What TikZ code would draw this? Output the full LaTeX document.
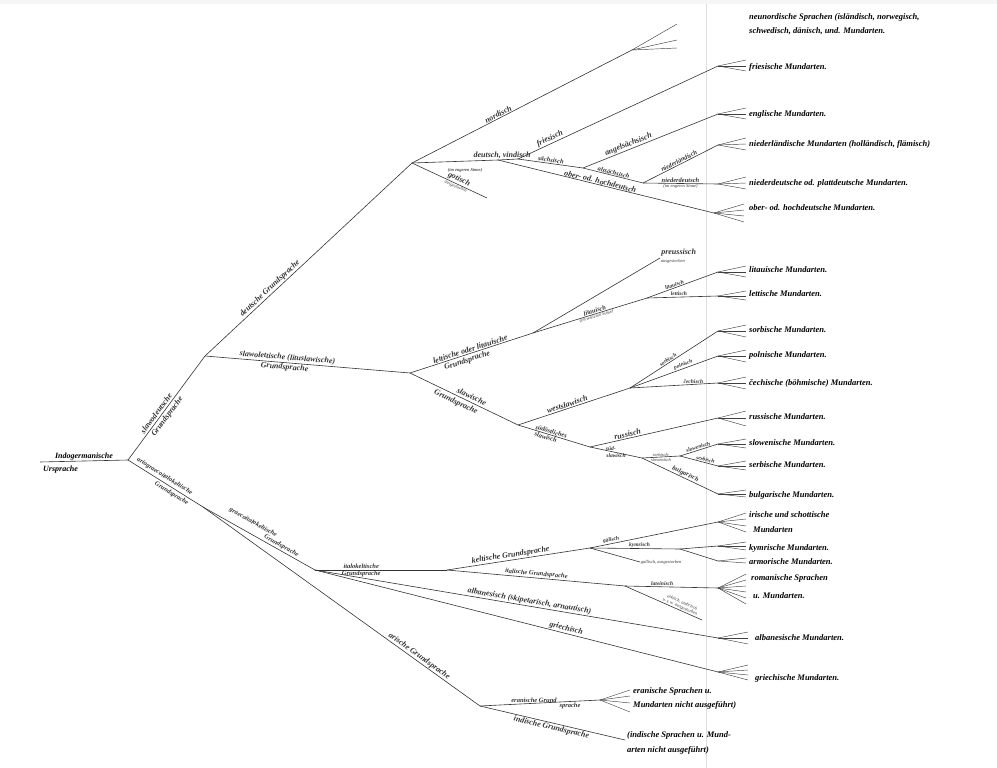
\documentclass[tikz,border=0pt]{standalone}
\usepackage{fontspec}
\setmainfont{Liberation Serif}
\usepackage{tikz}

\tikzset{
  ast/.style={line width=0.6pt, black!80},
  fanast/.style={line width=0.45pt, black!75},
  lbl/.style={font=\bfseries\itshape\fontsize{8}{8.5}\selectfont, inner sep=1pt},
  lblk/.style={font=\bfseries\itshape\fontsize{6.5}{7}\selectfont, inner sep=0.8pt},
  mittel/.style={font=\bfseries\itshape\fontsize{5.5}{6}\selectfont, inner sep=0.8pt},
  klein/.style={font=\itshape\fontsize{4.5}{5}\selectfont, inner sep=0.6pt},
  mund/.style={font=\bfseries\itshape\fontsize{8.5}{9}\selectfont, inner sep=1pt, anchor=west},
}
\newcommand{\mundfan}[3]{\foreach \dy in {#3} {\draw[fanast] (#1) -- ++(#2,\dy);}}

\begin{document}
\begin{tikzpicture}[x=1pt, y=-1pt]
  \useasboundingbox (0,0) rectangle (997,768);
  \fill [gray!7] (0,0) rectangle (997,4);
  \draw [gray!25, line width=0.6pt] (706,4) -- (706,768);

  % knoten
  \coordinate (urs)  at (40,462);
  \coordinate (root) at (128,460);
  \coordinate (sd)   at (205,356);
  \coordinate (dg)   at (412,163);
  \coordinate (sl)   at (410,373);
  \coordinate (agik) at (203,507);
  \coordinate (gik)  at (315,570);
  \coordinate (ik)   at (447,570);
  \coordinate (ar)   at (480,706);
  % deutsch
  \coordinate (nd)   at (632,50);
  \coordinate (hd0)  at (498,160);
  \coordinate (dv)   at (518,159);
  \coordinate (got)  at (487,198);
  \coordinate (sae)  at (583,168);
  \coordinate (as)   at (643,183);
  \coordinate (fr)   at (718,66);
  \coordinate (en)   at (718,114);
  \coordinate (nl)   at (718,145);
  \coordinate (ndt)  at (718,184);
  \coordinate (hd)   at (714,213);
  % slawolettisch
  \coordinate (lg)   at (533,333);
  \coordinate (pr)   at (660,258);
  \coordinate (lit)  at (647,298);
  \coordinate (lit1) at (718,272);
  \coordinate (let)  at (718,296);
  \coordinate (sg)   at (518,425);
  \coordinate (ws)   at (630,388);
  \coordinate (sor)  at (718,331);
  \coordinate (pol)  at (718,356);
  \coordinate (cech) at (718,383);
  \coordinate (sos)  at (590,447);
  \coordinate (rus)  at (718,418);
  \coordinate (ss)   at (642,458);
  \coordinate (sbsl) at (680,456);
  \coordinate (slo)  at (718,444);
  \coordinate (ser)  at (718,466);
  \coordinate (bul)  at (718,494);
  % italokeltisch, griechisch
  \coordinate (kg)   at (590,548);
  \coordinate (gae)  at (718,522);
  \coordinate (kym)  at (680,549);
  \coordinate (kym1) at (718,546);
  \coordinate (arm)  at (718,561);
  \coordinate (gal)  at (640,562);
  \coordinate (it)   at (625,586);
  \coordinate (lat)  at (718,588);
  \coordinate (osk)  at (702,620);
  \coordinate (alb)  at (718,638);
  \coordinate (gr)   at (718,672);
  % arisch
  \coordinate (er)   at (600,700);
  \coordinate (ind)  at (625,740);

  % stamm
  \draw [ast] (urs) -- (root);
  \node [lbl, anchor=south]      (indo) at (84,461) {Indogermanische};
  \node [lbl, anchor=north west] (ursp) at (42,465) {Ursprache};

  \draw [ast] (root) -- node[lbl, sloped, above=1pt, pos=.42] (l-sd1) {slawodeutsche}
                        node[lbl, sloped, below=1pt, pos=.45] (l-sd2) {Grundsprache} (sd);
  \draw [ast] (sd) -- node[lbl, sloped, above, pos=.33] (l-dg) {deutsche Grundsprache} (dg);
  \draw [ast] (sd) -- node[lbl, sloped, above, pos=.4] (l-sl1) {slawolettische (lituslawische)}
                      node[lbl, sloped, below, pos=.39] (l-sl2) {Grundsprache} (sl);
  \draw [ast] (root) -- node[lblk, sloped, above=1.5pt, pos=.45] (l-agik1) {ariograecoitalokeltische}
                        node[lblk, sloped, below=1.5pt, pos=.62] (l-agik2) {Grundsprache} (agik);
  \draw [ast] (agik) -- node[lblk, sloped, above=7pt, pos=.4] (l-gik1) {graecoitalokeltische}
                        node[lblk, sloped, above=0.5pt, pos=.68] (l-gik2) {Grundsprache} (gik);
  \draw [ast] (agik) -- node[lbl, sloped, above, pos=.77] (l-ar) {arische Grundsprache} (ar);

  % deutsch
  \draw [ast] (dg) -- node[lbl, sloped, above, pos=.4] (l-nd) {nordisch} (nd);
  \mundfan{nd}{45}{-26,-10,-2}
  \draw [ast] (dg) -- (hd0) -- node[lbl, above, pos=.2] (l-dv1) {deutsch, vindisch} (dv);
  \node [klein] (l-dv2) at (465,170) {(im engeren Sinne)};
  \draw [ast] (dg) -- node[lbl, sloped, above, pos=.6] (l-got1) {gotisch}
                      node[klein, sloped, below, pos=.6] (l-got2) {ausgestorben} (got);
  \draw [ast] (dv) -- node[lbl, sloped, above, pos=.17] (l-fr) {friesisch} (fr);
  \draw [ast] (dv) -- node[lblk, sloped, above, pos=.5] (l-sae) {sächsisch} (sae);
  \draw [ast] (hd0) -- node[lbl, sloped, above, pos=.47, inner sep=0.4pt] (l-hd) {ober- od. hochdeutsch} (hd);
  \draw [ast] (sae) -- node[lbl, sloped, above, pos=.35] (l-en) {angelsächsisch} (en);
  \draw [ast] (sae) -- node[lblk, sloped, above, pos=.5, inner sep=0.4pt] (l-as) {altsächsisch} (as);
  \draw [ast] (as) -- node[lblk, sloped, above, pos=.5] (l-nl) {niederländisch} (nl);
  \draw [ast] (as) -- node[lblk, above, pos=.5] (l-ndt1) {niederdeutsch}
                      node[klein, below, pos=.5] (l-ndt2) {(im engeren Sinne)} (ndt);
  \mundfan{fr}{28}{-6,0,5}
  \mundfan{en}{28}{-6,0,5}
  \mundfan{nl}{28}{-7,-1,5}
  \mundfan{ndt}{28}{-7,-1,5}
  \mundfan{hd}{30}{-9,-3,3,9}

  % slawolettisch
  \draw [ast] (sl) -- node[lbl, sloped, above, pos=.5] (l-lg1) {lettische oder litauische}
                      node[lbl, sloped, below=1pt, pos=.45] (l-lg2) {Grundsprache} (lg);
  \draw [ast] (lg) -- (pr) node[lbl, anchor=south west] (l-pr1) {preussisch}
                           node[klein, anchor=north west] (l-pr2) {ausgestorben};
  \draw [ast] (lg) -- node[lblk, sloped, above, pos=.55] (l-lit1) {litauisch}
                      node[klein, sloped, below, pos=.55] (l-lit2) {(im weiteren Sinne)} (lit);
  \draw [ast] (lit) -- node[mittel, sloped, above, pos=.4] (l-lit3) {litauisch} (lit1);
  \draw [ast] (lit) -- node[mittel, above, pos=.45] (l-let) {lettisch} (let);
  \draw [ast] (sl) -- node[lbl, sloped, above=1.5pt, pos=.55] (l-sg1) {slawische}
                      node[lbl, sloped, below=1.5pt, pos=.45] (l-sg2) {Grundsprache} (sg);
  \draw [ast] (sg) -- node[lbl, sloped, above, pos=.45] (l-ws) {westslawisch} (ws);
  \draw [ast] (ws) -- node[mittel, sloped, above, pos=.45] (l-sor) {sorbisch} (sor);
  \draw [ast] (ws) -- node[mittel, sloped, above, pos=.62] (l-pol) {polnisch} (pol);
  \draw [ast] (ws) -- node[mittel, above, pos=.72] (l-cech) {čechisch} (cech);
  \draw [ast] (sg) -- node[lblk, sloped, above, pos=.45] (l-sos1) {südöstliches}
                      node[lblk, sloped, below, pos=.4] (l-sos2) {slawisch} (sos);
  \draw [ast] (sos) -- node[lbl, sloped, above, pos=.3] (l-rus) {russisch} (rus);
  \draw [ast] (sos) -- node[mittel, above, pos=.4] (l-ss1) {süd-}
                       node[mittel, below, pos=.5] (l-ss2) {slawisch} (ss);
  \draw [ast] (ss) -- node[klein, above, pos=.5] (l-sbsl1) {serbisch-}
                      node[klein, below, pos=.5] (l-sbsl2) {slowenisch} (sbsl);
  \draw [ast] (sbsl) -- node[mittel, sloped, above, pos=.5] (l-slo) {slowenisch} (slo);
  \draw [ast] (sbsl) -- node[mittel, sloped, above, pos=.65] (l-ser) {serbisch} (ser);
  \draw [ast] (ss) -- node[lblk, sloped, above, pos=.55] (l-bul) {bulgarisch} (bul);
  \mundfan{lit1}{28}{-6,0,5}
  \mundfan{let}{28}{-5,0,4}
  \mundfan{sor}{28}{-6,0,6}
  \mundfan{pol}{28}{-6,0,6}
  \mundfan{cech}{28}{-6,0,6}
  \mundfan{rus}{28}{-7,0,8}
  \mundfan{slo}{28}{-5,0,4}
  \mundfan{ser}{28}{-5,0,4}
  \mundfan{bul}{28}{-4,0,3}

  % italokeltisch, griechisch
  \draw [ast] (gik) -- node[lblk, above, pos=.35] (l-ik1) {italokeltische}
                       node[lblk, below, pos=.35] (l-ik2) {Grundsprache} (ik);
  \draw [ast] (ik) -- node[lbl, sloped, above, pos=.45] (l-kg) {keltische Grundsprache} (kg);
  \draw [ast] (ik) -- node[lblk, sloped, above, pos=.5] (l-it) {italische Grundsprache} (it);
  \draw [ast] (gik) -- node[lbl, sloped, above, pos=.53] (l-alb) {albanesisch (skipetarisch, arnautisch)} (alb);
  \draw [ast] (gik) -- node[lbl, sloped, above, pos=.62] (l-gr) {griechisch} (gr);
  \draw [ast] (kg) -- node[mittel, sloped, above, pos=.17] (l-gae) {gälisch} (gae);
  \draw [ast] (kg) -- node[mittel, above, pos=.55] (l-kym) {kymrisch} (kym);
  \draw [ast] (kym) -- (kym1);
  \draw [ast] (kym) -- (arm);
  \draw [ast] (kg) -- (gal) node[klein, anchor=west] (l-gal) {gallisch, ausgestorben};
  \draw [ast] (it) -- node[mittel, above, pos=.4] (l-lat) {lateinisch} (lat);
  \draw [ast] (it) -- node[klein, sloped, above, pos=.7, align=center] (l-osk) {oskisch, umbrisch\\u.\,s.\,w. ausgestorben} (osk);
  \mundfan{gae}{28}{-9,-3,4,10}
  \mundfan{kym1}{28}{-4,0,4}
  \mundfan{arm}{28}{-3,2}
  \mundfan{lat}{28}{-14,-8,-2,4,10,16}
  \mundfan{alb}{30}{-6,0,6}
  \mundfan{gr}{30}{-7,-2,3,8}

  % arisch
  \draw [ast] (ar) -- node[lblk, above, pos=.45] (l-er1) {eranische Grund}
                      node[lblk, below, pos=.75] (l-er2) {sprache} (er);
  \mundfan{er}{30}{-10,-4,3,12}
  \draw [ast] (ar) -- node[lbl, sloped, below, pos=.5] (l-ind) {indische Grundsprache} (ind);

  % mundarten
  \node [mund] (m-nd1)  at (748,17)  {neunordische Sprachen (isländisch, norwegisch,};
  \node [mund] (m-nd2)  at (748,31)  {schwedisch, dänisch, und. Mundarten.};
  \node [mund] (m-fr)   at (748,67)  {friesische Mundarten.};
  \node [mund] (m-en)   at (748,114) {englische Mundarten.};
  \node [mund] (m-nl)   at (748,144) {niederländische Mundarten (holländisch, flämisch)};
  \node [mund] (m-ndt)  at (748,183) {niederdeutsche od. plattdeutsche Mundarten.};
  \node [mund] (m-hd)   at (748,208) {ober- od. hochdeutsche Mundarten.};
  \node [mund] (m-lit)  at (748,270) {litauische Mundarten.};
  \node [mund] (m-let)  at (748,294) {lettische Mundarten.};
  \node [mund] (m-sor)  at (748,330) {sorbische Mundarten.};
  \node [mund] (m-pol)  at (748,355) {polnische Mundarten.};
  \node [mund] (m-cech) at (748,383) {čechische (böhmische) Mundarten.};
  \node [mund] (m-rus)  at (748,417) {russische Mundarten.};
  \node [mund] (m-slo)  at (748,443) {slowenische Mundarten.};
  \node [mund] (m-ser)  at (748,465) {serbische Mundarten.};
  \node [mund] (m-bul)  at (748,495) {bulgarische Mundarten.};
  \node [mund] (m-gae1) at (748,515) {irische und schottische};
  \node [mund] (m-gae2) at (752,530) {Mundarten};
  \node [mund] (m-kym)  at (748,548) {kymrische Mundarten.};
  \node [mund] (m-arm)  at (748,562) {armorische Mundarten.};
  \node [mund] (m-lat1) at (750,578) {romanische Sprachen};
  \node [mund] (m-lat2) at (752,596) {u. Mundarten.};
  \node [mund] (m-alb)  at (754,638) {albanesische Mundarten.};
  \node [mund] (m-gr)   at (754,678) {griechische Mundarten.};
  \node [mund] (m-er1)  at (632,691) {eranische Sprachen u.};
  \node [mund] (m-er2)  at (632,705) {Mundarten nicht ausgeführt)};
  \node [mund] (m-ind1) at (626,735) {(indische Sprachen u. Mund-};
  \node [mund] (m-ind2) at (626,750) {arten nicht ausgeführt)};
\end{tikzpicture}
\end{document}
